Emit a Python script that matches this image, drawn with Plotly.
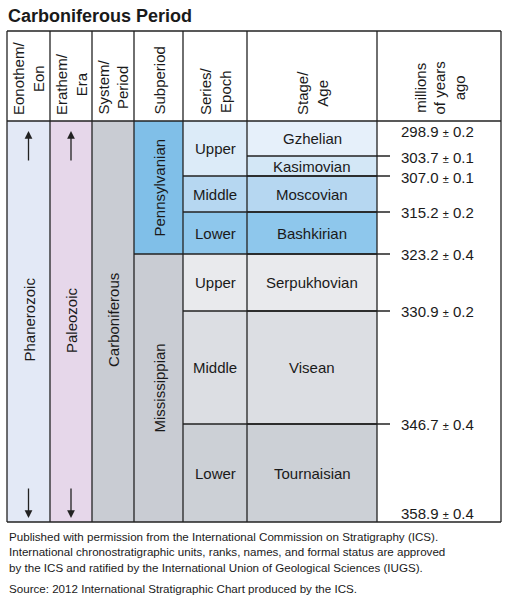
import plotly.graph_objects as go

# ---- data ----
headers = ["Eonothem/<br>Eon", "Erathem/<br>Era", "System/<br>Period", "Subperiod",
           "Series/<br>Epoch", "Stage/<br>Age", "millions<br>of years<br>ago"]
eon = "Phanerozoic"
era = "Paleozoic"
period = "Carboniferous"
subperiods = ["Pennsylvanian", "Mississippian"]
series = ["Upper", "Middle", "Lower", "Upper", "Middle", "Lower"]
stages = ["Gzhelian", "Kasimovian", "Moscovian", "Bashkirian", "Serpukhovian", "Visean", "Tournaisian"]
ages = ["298.9", "303.7", "307.0", "315.2", "323.2", "330.9", "346.7", "358.9"]
errors = ["0.2", "0.1", "0.1", "0.2", "0.4", "0.2", "0.4", "0.4"]

# ---- layout (pixel geometry) ----
W, H = 508, 600
L, R, T, HB, B = 7, 501, 31, 121, 522
cols = [L, 50, 92, 134, 183, 247, 377, R]
stage_y = [121, 156, 176, 212, 254, 311, 424, 522]
series_stage_idx = [(0, 2), (2, 3), (3, 4), (4, 5), (5, 6), (6, 7)]
sub_idx = [(0, 4), (4, 7)]
stage_col = ["#e6f0fa", "#d3e7f6", "#b6d7f1", "#8ec7ec", "#e9eaed", "#dcdee3", "#ccd0d6"]
series_col = ["#dcebf8", "#b6d7f1", "#8ec7ec", "#e9eaed", "#dcdee3", "#ccd0d6"]
sub_col = ["#80bfe8", "#c9ccd3"]
age_y = [131, 157, 177, 212, 254, 311, 424, 513]
line_c = "#222"
FONT = "Liberation Sans, Arial, sans-serif"

shapes, ann = [], []
def rect(x0, y0, x1, y1, fill):
    shapes.append(dict(type="rect", x0=x0, x1=x1, y0=y0, y1=y1, fillcolor=fill,
                       line=dict(width=0), layer="below"))
def line(x0, y0, x1, y1, w=1.3):
    shapes.append(dict(type="line", x0=x0, x1=x1, y0=y0, y1=y1, line=dict(color=line_c, width=w)))
def text(x, y, t, size=15, angle=0, **kw):
    ann.append(dict(x=x, y=y, text=t, showarrow=False, textangle=angle,
                    font=dict(size=size, color="#1a1a1a", family=FONT), **kw))

rect(cols[0], HB, cols[1], B, "#e3e9f6")
rect(cols[1], HB, cols[2], B, "#e6d7ea")
rect(cols[2], HB, cols[3], B, "#c9ccd3")
for (a, b), c in zip(sub_idx, sub_col):
    rect(cols[3], stage_y[a], cols[4], stage_y[b], c)
for (a, b), c in zip(series_stage_idx, series_col):
    rect(cols[4], stage_y[a], cols[5], stage_y[b], c)
for i, c in enumerate(stage_col):
    rect(cols[5], stage_y[i], cols[6], stage_y[i + 1], c)

line(L, T, R, T); line(L, B, R, B); line(L, HB, R, HB)
for x in cols:
    line(x, T, x, B)
line(cols[3], stage_y[4], cols[4], stage_y[4])
for a, b in series_stage_idx[1:]:
    line(cols[4], stage_y[a], cols[6], stage_y[a])
for i in range(1, 7):
    line(cols[5], stage_y[i], 390, stage_y[i])

for i, h in enumerate(headers):
    text((cols[i] + cols[i + 1]) / 2, HB - 4, h, size=15, angle=-90, yanchor="bottom")

text((cols[0] + cols[1]) / 2, 320, eon, angle=-90)
text((cols[1] + cols[2]) / 2, 320, era, angle=-90)
text((cols[2] + cols[3]) / 2, 320, period, angle=-90)
text((cols[3] + cols[4]) / 2, 188, subperiods[0], angle=-90)
text((cols[3] + cols[4]) / 2, 388, subperiods[1], angle=-90)
for (a, b), s in zip(series_stage_idx, series):
    text((cols[4] + cols[5]) / 2, (stage_y[a] + stage_y[b]) / 2, s)
stage_ty = [(stage_y[i] + stage_y[i + 1]) / 2 for i in range(7)]
stage_ty[0] = 138
for i, s in enumerate(stages):
    text((cols[5] + cols[6]) / 2, stage_ty[i], s)
for i, (a, e) in enumerate(zip(ages, errors)):
    text(437, age_y[i], f"{a} <span style='font-size:11px'>±</span> {e}")

for x in [(cols[0] + cols[1]) / 2, (cols[1] + cols[2]) / 2]:
    ann.append(dict(x=x, y=131, ax=x, ay=162, xref="x", yref="y", axref="x", ayref="y",
                    showarrow=True, arrowhead=2, arrowwidth=1.3, arrowsize=1.2, text="", arrowcolor=line_c))
    ann.append(dict(x=x, y=518, ax=x, ay=487, xref="x", yref="y", axref="x", ayref="y",
                    showarrow=True, arrowhead=2, arrowwidth=1.3, arrowsize=1.2, text="", arrowcolor=line_c))

text(6, 16, "<b>Carboniferous Period</b>", size=18, xanchor="left")
foot = ["Published with permission from the International Commission on Stratigraphy (ICS).",
        "International chronostratigraphic units, ranks, names, and formal status are approved",
        "by the ICS and ratified by the International Union of Geological Sciences (IUGS)."]
for i, f in enumerate(foot):
    text(7, 536 + 15.5 * i, f, size=11.6, xanchor="left")
text(7, 588, "Source: 2012 International Stratigraphic Chart produced by the ICS.", size=11.6, xanchor="left")

fig = go.Figure()
fig.update_layout(width=W, height=H, margin=dict(l=0, r=0, t=0, b=0),
                  plot_bgcolor="white", paper_bgcolor="white", shapes=shapes, annotations=ann,
                  xaxis=dict(range=[0, W], visible=False, fixedrange=True),
                  yaxis=dict(range=[H, 0], visible=False, fixedrange=True), showlegend=False)
fig.write_html("out.html", config={"displayModeBar": False},
               post_script="document.body.style.margin='0';document.body.style.overflow='hidden';")
